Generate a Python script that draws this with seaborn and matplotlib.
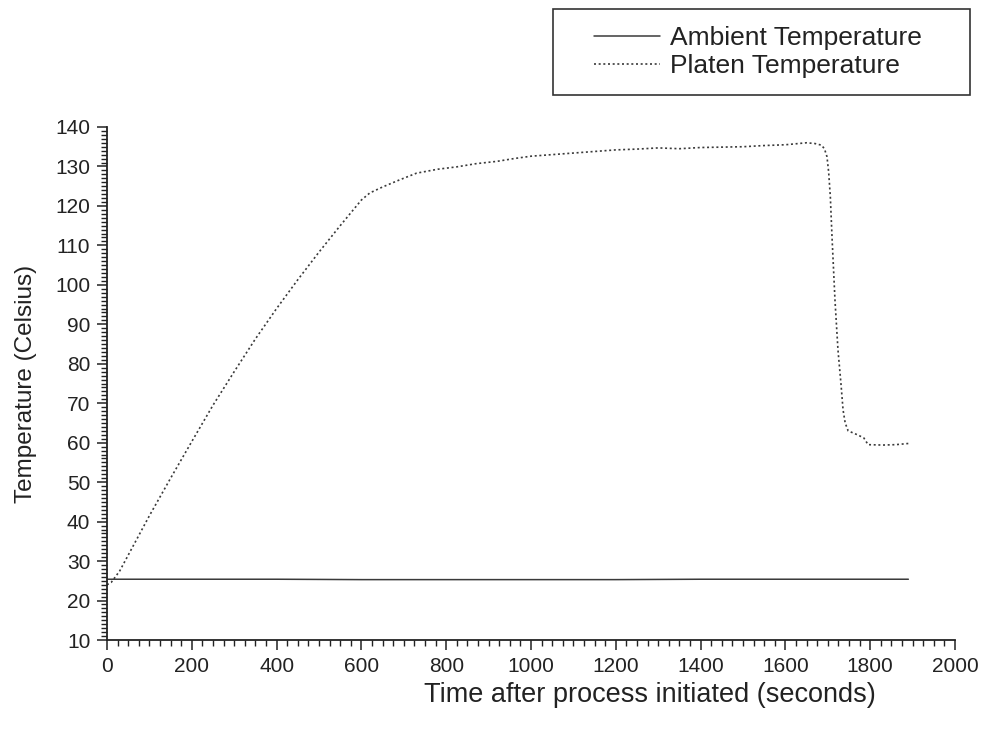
import matplotlib
matplotlib.use("Agg")
import matplotlib.pyplot as plt
from matplotlib.patches import Rectangle
from matplotlib.ticker import MultipleLocator
import seaborn as sns
import pandas as pd

# Time axis samples (seconds) and the two temperature traces (Celsius)
platen_time = [0, 10, 30, 60, 100, 150, 200, 250, 300, 350, 400, 450, 500, 550,
               600, 620, 650, 690, 730, 780, 825, 870, 920, 960, 1000,
               1050, 1100, 1150, 1200, 1250, 1300, 1350, 1400, 1450, 1500, 1550,
               1600, 1630, 1650, 1670, 1685, 1692, 1698, 1702, 1706, 1710, 1717,
               1724, 1731, 1736, 1741, 1748, 1770, 1785, 1795, 1830, 1860, 1890]
platen_temp = [24.0, 24.6, 27.5, 33.5, 41.5, 51.0, 60.3, 69.5, 78.0, 86.3, 94.0,
               101.3, 108.3, 115.0, 121.5, 123.3, 124.8, 126.6, 128.3,
               129.3, 129.9, 130.7, 131.3, 132.0, 132.6, 133.0, 133.4, 133.8, 134.2,
               134.4, 134.7, 134.5, 134.8, 134.9, 135.0, 135.3, 135.5, 135.8, 136.0,
               135.8, 135.4, 134.5, 132.5, 128.6, 122.3, 112.0, 96.0, 83.5, 75.0,
               68.3, 65.0, 63.0, 62.0, 61.2, 59.5, 59.4, 59.5, 59.8]

ambient_time = [0, 200, 400, 600, 800, 1000, 1200, 1400, 1600, 1800, 1890]
ambient_temp = [25.4, 25.4, 25.4, 25.3, 25.3, 25.3, 25.3, 25.4, 25.4, 25.4, 25.4]

x_ticks = [0, 200, 400, 600, 800, 1000, 1200, 1400, 1600, 1800, 2000]
y_ticks = [10, 20, 30, 40, 50, 60, 70, 80, 90, 100, 110, 120, 130, 140]

ambient = pd.DataFrame({"time": ambient_time, "temp": ambient_temp})
platen = pd.DataFrame({"time": platen_time, "temp": platen_temp})

sns.set_style("ticks")
plt.rcParams["font.family"] = ["Liberation Sans", "DejaVu Sans"]

fig = plt.figure(figsize=(9.84, 7.33), dpi=100)
ax = fig.add_axes([107 / 984, 1 - 640 / 733, (955 - 107) / 984, (640 - 127) / 733])

sns.lineplot(data=ambient, x="time", y="temp", ax=ax, color="#3a3a3a",
             lw=1.1, label="Ambient Temperature", legend=False)
sns.lineplot(data=platen, x="time", y="temp", ax=ax, color="#3a3a3a",
             lw=1.2, linestyle=(0, (1.2, 1.6)), label="Platen Temperature",
             legend=False)

ax.set_xlim(0, 2000)
ax.set_ylim(10, 140)
ax.set_xticks(x_ticks)
ax.set_yticks(y_ticks)
ax.xaxis.set_minor_locator(MultipleLocator(25))
ax.yaxis.set_minor_locator(MultipleLocator(1))
ax.tick_params(axis="both", which="major", direction="out", length=7,
               width=1.1, labelsize=15, colors="#222222", pad=5)
ax.tick_params(axis="both", which="minor", direction="out", length=4,
               width=1.0, colors="#222222")

for side in ("top", "right"):
    ax.spines[side].set_visible(False)
for side in ("left", "bottom"):
    ax.spines[side].set_linewidth(1.3)
    ax.spines[side].set_color("#222222")

ax.set_xlabel("Time after process initiated (seconds)", fontsize=19.5,
              color="#222222")
ax.xaxis.set_label_coords(0.64, -0.082)
ax.set_ylabel("Temperature (Celsius)", fontsize=17.5, color="#222222")
ax.yaxis.set_label_coords(-0.083, 0.5)

# Legend sits in a framed box above the plot, at the top right of the figure
handles, labels = ax.get_legend_handles_labels()
fig.legend(handles, labels, loc="center", frameon=False, fontsize=19,
           bbox_to_anchor=(758 / 984, 1 - 52 / 733), handlelength=2.5,
           handletextpad=0.35, labelspacing=0.15, labelcolor="#222222")
fig.patches.append(Rectangle((553 / 984, 1 - 95 / 733), (970 - 553) / 984,
                             (95 - 9) / 733, transform=fig.transFigure,
                             fill=False, edgecolor="#333333", lw=1.2))

fig.savefig("out.png", dpi=100)
